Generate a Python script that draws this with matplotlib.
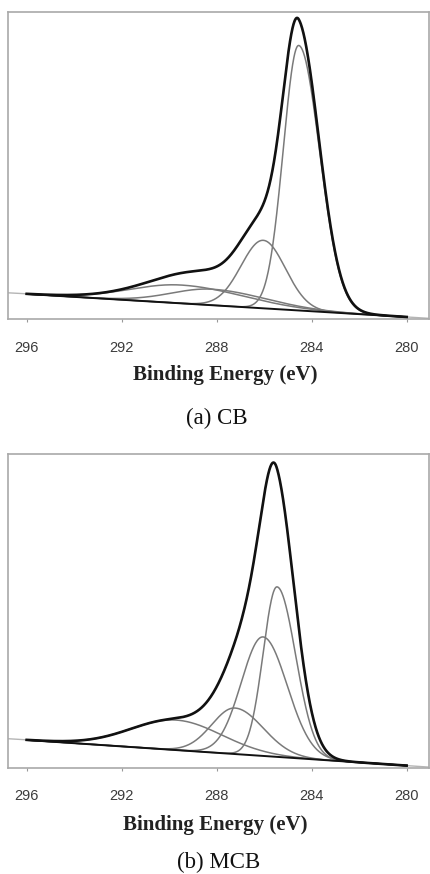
import numpy as np
import matplotlib
matplotlib.use("Agg")
import matplotlib.pyplot as plt

# ---------------- data ----------------
tick_values = [296, 292, 288, 284, 280]
tick_labels = ["296", "292", "288", "284", "280"]
x_label = "Binding Energy (eV)"
captions = ["(a) CB", "(b) MCB"]

scan_range = [296.0, 280.0]          # fitted region (eV)

# (a) CB : fitted C1s components (centre eV, height, FWHM high-BE side, FWHM low-BE side)
cb_centers = [284.55, 286.04, 289.5, 288.2]
cb_heights = [265.0, 68.0, 18.3, 16.0]
cb_fwhm_high = [1.52, 2.2, 5.0, 4.0]
cb_fwhm_low = [2.08, 2.2, 6.1, 5.3]
cb_background = [25.0, 2.0]          # linear background at 296 eV and 280 eV

# (b) MCB
mcb_centers = [285.46, 286.05, 287.23, 289.7]
mcb_heights = [170.0, 119.0, 46.0, 30.0]
mcb_fwhm_high = [1.37, 2.15, 2.3, 4.5]
mcb_fwhm_low = [1.85, 2.4, 2.8, 4.5]
mcb_background = [27.5, 1.9]

# ---------------- figure ----------------
W, H = 430, 874
fig = plt.figure(figsize=(W / 100, H / 100), dpi=100)

SANS = ["Liberation Sans", "DejaVu Sans"]
SERIF = ["Liberation Serif", "DejaVu Serif"]


def component(e, c, h, fh, fl):
    s = np.where(e > c, fh, fl) / 2.3548
    return h * np.exp(-((e - c) ** 2) / (2 * s ** 2))


def background(e, bg):
    return bg[0] + (bg[1] - bg[0]) * (scan_range[0] - e) / (scan_range[0] - scan_range[1])


def panel(box, centers, heights, fh, fl, bg, ytop, xlim):
    left, top, right, bottom = box
    ax = fig.add_axes([left / W, 1 - bottom / H, (right - left) / W, (bottom - top) / H])
    e = np.linspace(scan_range[0], scan_range[1], 1200)
    e_ext = np.linspace(xlim[0], xlim[1], 1400)
    base = background(e, bg)
    comps = [component(e, c, h, a, b) for c, h, a, b in zip(centers, heights, fh, fl)]
    env = base + np.sum(comps, axis=0)
    raw = background(e_ext, bg) + np.sum(
        [component(e_ext, c, h, a, b) for c, h, a, b in zip(centers, heights, fh, fl)], axis=0)
    ax.plot(e_ext, raw, color="#b5b5b5", lw=1.0, zorder=1)
    for comp in comps:
        ax.plot(e, base + comp, color="#7a7a7a", lw=1.1, zorder=2)
    ax.plot(e, base, color="#111111", lw=1.4, zorder=3)
    ax.plot(e, env, color="#111111", lw=1.9, zorder=4)
    ax.set_xlim(xlim)
    ax.set_ylim(0, ytop)
    ax.set_yticks([])
    ax.set_xticks(tick_values)
    ax.set_xticklabels(tick_labels, fontfamily=SANS, fontsize=10.5, color="#3c3c3c")
    ax.tick_params(axis="x", direction="out", length=2, width=0.8, color="#999999", pad=13.5)
    for sp in ax.spines.values():
        sp.set_color("#a9a9a9")
        sp.set_linewidth(1.2)
    return ax


panel((8.3, 12, 429, 319), cb_centers, cb_heights, cb_fwhm_high, cb_fwhm_low,
      cb_background, 307, (296.775, 279.06))
panel((8.3, 454, 428.7, 767.5), mcb_centers, mcb_heights, mcb_fwhm_high, mcb_fwhm_low,
      mcb_background, 313.5, (296.775, 279.07))

fig.text(225 / W, 1 - 375 / H, x_label, ha="center", va="center",
         fontfamily=SERIF, fontweight="bold", fontsize=15, color="#222222")
fig.text(217 / W, 1 - 418 / H, captions[0], ha="center", va="center",
         fontfamily=SERIF, fontsize=16.5, color="#111111")
fig.text(215 / W, 1 - 825 / H, x_label, ha="center", va="center",
         fontfamily=SERIF, fontweight="bold", fontsize=15, color="#222222")
fig.text(219 / W, 1 - 862 / H, captions[1], ha="center", va="center",
         fontfamily=SERIF, fontsize=16.5, color="#111111")

fig.savefig("out.png", dpi=100, facecolor="white")
